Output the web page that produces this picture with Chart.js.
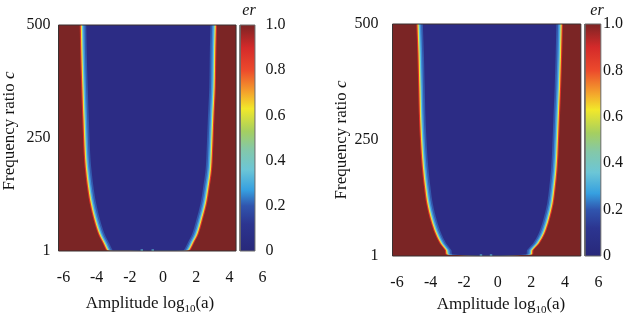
<!DOCTYPE html>
<html>
<head>
<meta charset="utf-8">
<script src="https://cdn.jsdelivr.net/npm/chart.js@4.4.1/dist/chart.umd.min.js"></script>
<style>
  html, body { margin: 0; padding: 0; background: #fff; }
  #wrap { display: flex; width: 640px; height: 316px; }
  canvas { display: block; }
</style>
</head>
<body>
<div id="wrap">
  <canvas id="mapLeft" width="320" height="316"></canvas>
  <canvas id="mapRight" width="320" height="316"></canvas>
</div>
<script>
const FONT = '"Liberation Serif", "Times New Roman", serif';
const TXT = "#141414";

// axes
const X_TICKS = [-6, -4, -2, 0, 2, 4, 6];
const C_TICKS = [1, 250, 500];
const ER_TICKS = [0, 0.2, 0.4, 0.6, 0.8, 1.0];
const C_RANGE = [1, 500];

// left map: edge of the er~0 basin (yellow ridge)
const cLevelsL  = [500, 437, 363, 290, 216, 179, 142, 106, 69, 39, 17, 6, 2.5];
const lowEdgeL  = [-4.90, -4.87, -4.81, -4.74, -4.66, -4.58, -4.46, -4.30, -4.06, -3.80, -3.50, -3.36, -3.28];
const highEdgeL = [3.13, 3.09, 3.06, 2.97, 2.89, 2.83, 2.69, 2.53, 2.27, 2.03, 1.73, 1.58, 1.48];
const ampRangeL = [-6.3, 4.4];
const spotsL    = [-1.28, -0.62];

// right map
const cLevelsR  = [500, 437, 365, 294, 222, 186, 150, 114, 78, 50, 28, 14, 4];
const lowEdgeR  = [-4.73, -4.67, -4.62, -4.57, -4.47, -4.39, -4.28, -4.14, -3.90, -3.64, -3.34, -3.04, -2.95];
const highEdgeR = [3.76, 3.72, 3.66, 3.58, 3.50, 3.44, 3.34, 3.21, 2.97, 2.71, 2.37, 2.02, 1.95];
const ampRangeR = [-6.27, 4.95];
const spotsR    = [-1.0, -0.4];

// colours
const ER_HIGH = "#7b2525";
const JET = [
  [0, "#28287a"], [0.12, "#2c3590"], [0.2, "#3055ae"], [0.27, "#36a0e0"],
  [0.36, "#6cc6d6"], [0.45, "#84c8a8"], [0.53, "#a5cf60"], [0.63, "#f2e82a"],
  [0.7, "#f4a52c"], [0.8, "#ec4a2c"], [0.9, "#d42a2a"], [1, "#7c2424"]
];
// colour layers across the basin edge, offset in pixels (outside -> inside)
const BANDS = [
  { px: -2.0, color: "#dc3328" },
  { px: -0.9, color: "#efdc3c" },
  { px: 0.3,  color: "#62c9e0" },
  { px: 1.4,  color: "#3f8ad6" },
  { px: 2.8,  color: "#3358ac" },
  { px: 4.5,  color: "#2c2c85" }
];

const LAY_L = {
  xMin: -6.3, xMax: 6.0, cbar: [4.64, 5.54],
  area: { left: 58.5, right: 262.6, top: 25, bottom: 251 },
  yPad: 8, y2Pad: 3, xTitle: [150, 308], yTitle: [14, 131], er: [249, 15]
};
const LAY_R = {
  xMin: -6.27, xMax: 6.15, cbar: [5.19, 6.14],
  area: { left: 72.5, right: 281, top: 24, bottom: 256 },
  yPad: 14, y2Pad: 2, xTitle: [181, 309], yTitle: [25.5, 140], er: [277, 15]
};

function rect(x0, x1, y0, y1) {
  return [{x:x0,y:y0},{x:x1,y:y0},{x:x1,y:y1},{x:x0,y:y1},{x:x0,y:y0}];
}
function basin(levels, lo, hi, shift) {
  const left = levels.map((c, i) => ({ x: lo[i] + shift, y: c }));
  const right = levels.map((c, i) => ({ x: hi[i] - shift, y: c })).reverse();
  return left.concat(right);
}
function drawRich(ctx, parts, x, y, rot) {
  ctx.save();
  ctx.translate(x, y);
  if (rot) ctx.rotate(rot);
  ctx.textBaseline = "alphabetic";
  ctx.fillStyle = TXT;
  let w = 0;
  parts.forEach(p => { ctx.font = p.font; w += ctx.measureText(p.t).width; });
  let cx = -w / 2;
  parts.forEach(p => {
    ctx.font = p.font;
    ctx.fillText(p.t, cx, p.dy || 0);
    cx += ctx.measureText(p.t).width;
  });
  ctx.restore();
}

const X_TITLE = [
  { t: "Amplitude log", font: `17px ${FONT}` },
  { t: "10", font: `11px ${FONT}`, dy: 4 },
  { t: "(a)", font: `17px ${FONT}` }
];
const Y_TITLE = [
  { t: "Frequency ratio ", font: `17px ${FONT}` },
  { t: "c", font: `italic 17px ${FONT}` }
];
const CBAR_TITLE = [{ t: "er", font: `italic 16px ${FONT}` }];

function jetFill(ctx) {
  const ch = ctx.chart, s = ch.scales.y2;
  if (!s || !ch.chartArea) return JET[0][1];
  const g = ch.ctx.createLinearGradient(0, s.getPixelForValue(0), 0, s.getPixelForValue(1));
  JET.forEach(([v, c]) => g.addColorStop(v, c));
  return g;
}

function makePanel(id, d, lay) {
  const perPx = (lay.xMax - lay.xMin) / (lay.area.right - lay.area.left);
  const sets = [];
  sets.push({ data: rect(d.amp[0], d.amp[1], C_RANGE[0], C_RANGE[1]), backgroundColor: ER_HIGH, fill: "shape", borderWidth: 0 });
  BANDS.forEach(b => sets.push({
    data: basin(d.levels, d.lo, d.hi, b.px * perPx),
    backgroundColor: b.color, fill: "shape", borderWidth: 0, tension: 0.3
  }));
  sets.push({ data: d.spots.map(x => ({ x, y: 1.5 })), showLine: false, pointRadius: 1.7,
    pointStyle: "rect", pointBackgroundColor: "#5fcbe4", pointBorderWidth: 0 });
  sets.push({ data: rect(d.amp[0], d.amp[1], C_RANGE[0], C_RANGE[1]), fill: false,
    borderColor: "#3b3030", borderWidth: 1, clip: false });
  sets.push({ data: rect(lay.cbar[0], lay.cbar[1], ER_TICKS[0], ER_TICKS[ER_TICKS.length - 1]),
    yAxisID: "y2", fill: "shape", backgroundColor: jetFill, borderColor: "#6a6a6a", borderWidth: 1, clip: false });
  sets.forEach((s, i) => { s.order = sets.length - i; });

  const tickFont = { family: FONT, size: 16 };
  return new Chart(document.getElementById(id), {
    type: "line",
    data: { datasets: sets },
    options: {
      responsive: false,
      animation: false,
      events: [],
      layout: { padding: { top: lay.area.top, left: 0, right: 0, bottom: 0 } },
      elements: { point: { radius: 0 }, line: { tension: 0 } },
      plugins: { legend: { display: false }, tooltip: { enabled: false } },
      scales: {
        x: {
          type: "linear", min: lay.xMin, max: lay.xMax,
          afterBuildTicks: s => { s.ticks = X_TICKS.map(v => ({ value: v })); },
          afterFit: s => { s.height = 316 - lay.area.bottom; },
          grid: { display: false, drawTicks: false }, border: { display: false },
          ticks: { font: tickFont, color: TXT, padding: 17, autoSkip: false, maxRotation: 0, callback: v => String(v) }
        },
        y: {
          type: "linear", position: "left", min: C_RANGE[0], max: C_RANGE[1],
          afterBuildTicks: s => { s.ticks = C_TICKS.map(v => ({ value: v })); },
          afterFit: s => { s.width = lay.area.left; },
          grid: { display: false, drawTicks: false }, border: { display: false },
          ticks: { font: tickFont, color: TXT, padding: lay.yPad, callback: v => String(v) }
        },
        y2: {
          type: "linear", position: "right", min: 0, max: 1,
          afterBuildTicks: s => { s.ticks = ER_TICKS.map(v => ({ value: v })); },
          afterFit: s => { s.width = 320 - lay.area.right; },
          grid: { display: false, drawTicks: false }, border: { display: false },
          ticks: { font: tickFont, color: TXT, padding: lay.y2Pad, callback: v => v === 0 ? "0" : v.toFixed(1) }
        }
      }
    },
    plugins: [{
      id: "panelText",
      afterDraw(chart) {
        const ctx = chart.ctx;
        drawRich(ctx, X_TITLE, lay.xTitle[0], lay.xTitle[1]);
        drawRich(ctx, Y_TITLE, lay.yTitle[0], lay.yTitle[1], -Math.PI / 2);
        drawRich(ctx, CBAR_TITLE, lay.er[0], lay.er[1]);
      }
    }]
  });
}

makePanel("mapLeft", { levels: cLevelsL, lo: lowEdgeL, hi: highEdgeL, amp: ampRangeL, spots: spotsL }, LAY_L);
makePanel("mapRight", { levels: cLevelsR, lo: lowEdgeR, hi: highEdgeR, amp: ampRangeR, spots: spotsR }, LAY_R);
</script>
</body>
</html>
